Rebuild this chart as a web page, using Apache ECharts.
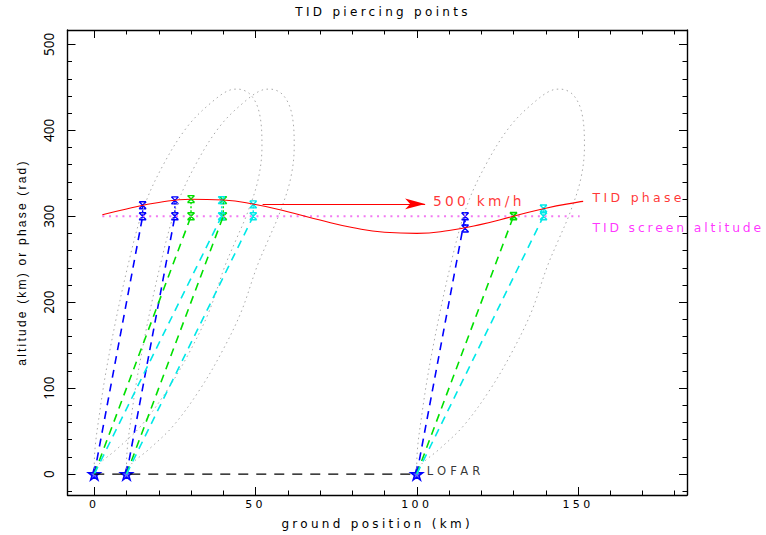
<!DOCTYPE html>
<html><head><meta charset="utf-8">
<script src="https://cdn.jsdelivr.net/npm/echarts@6/dist/echarts.min.js"></script>
<style>
html,body{margin:0;padding:0;background:#fff;}
#c{width:766px;height:535px;}
#c text[style*="DejaVu Sans"]{letter-spacing:3.3px;}
#c text[style*="12.4px"]{letter-spacing:2.85px;}
#c text[style*="11.6px"]{letter-spacing:4.2px;}
#c text[style*="Liberation Sans"]{letter-spacing:2.2px;}
</style></head><body><div id="c"></div>
<script>
// ---- data ----
const titleText = 'TID piercing points';
const xName = 'ground position (km)';
const yName = 'altitude (km) or phase (rad)';
const stationX = [0, 10, 100];
const stationLabel = 'LOFAR';
const screenAltitude = 300;
const screenX = [2.5, 150.5];
const bluePierceX = [15, 25, 115];
const greenPierceX = [30, 40, 130];
const cyanPierceX = [39.5, 49.3, 139.3];
const bluePhase = [312.8, 318.5, 285.7];
const greenPhase = [320.0, 318.8, 300.5];
const cyanPhase = [318.8, 313.8, 309.0];
const phaseX = [2.5, 10, 20, 30, 40, 50, 60, 70, 80, 90, 100, 110, 120, 130, 140, 150, 151.6];
const phaseY = [301.8, 308.5, 316.0, 319.8, 318.9, 313.7, 305.3, 295.6, 287.0, 281.4, 280.1, 283.5, 290.6, 300.0, 309.4, 316.5, 317.3];
// beam outline, relative to each station's ground position
const beamDX = [0.4, 0.0, 1.8, 5.1, 10.4, 15.5, 21.7, 28.9, 36.1, 42.3, 44.5, 48.5, 51.2, 52.0, 50.8, 47.5, 44.0, 40.5, 35.5, 29.5, 22.8, 14.5, 7.0, 1.0, 0.4];
const beamY  = [0, 9.6, 75, 149, 242, 311.6, 362, 404.5, 431.7, 447.2, 448, 441.3, 420.1, 381.3, 342.6, 303.9, 272.9, 241.9, 188.2, 141.7, 98.7, 56.1, 29, 9.6, 0];
const arrowX = [52.2, 102.6];
const arrowY = 314.4;
const speedLabel = '500 km/h';
const speedLabelPos = [105.0, 317.4];
const phaseLabel = 'TID phase';
const phaseLabelPos = [154.5, 321.4];
const screenLabel = 'TID screen altitude';
const screenLabelPos = [154.5, 287.2];
const lofarLabelPos = [103.1, 3.5];
const xRange = [-8.3, 183.8];
const yRange = [-24.4, 516.8];
const xMajorTicks = [0, 50, 100, 150];
const xMinorTicks = [10, 20, 30, 40, 60, 70, 80, 90, 110, 120, 130, 140, 160, 170, 180];
const yMajorTicks = [0, 100, 200, 300, 400, 500];
const yMinorTicks = [-20, 20, 40, 60, 80, 120, 140, 160, 180, 220, 240, 260, 280, 320, 340, 360, 380, 420, 440, 460, 480];

// ---- chart ----
const HFONT = 'DejaVu Sans';
const chart = echarts.init(document.getElementById('c'), null, {renderer: 'svg'});
const series = [];

stationX.forEach(function (sx) {
  series.push({
    type: 'line', silent: true, symbol: 'none', smooth: 0.35,
    data: beamDX.map(function (d, i) { return [sx + d, beamY[i]]; }),
    lineStyle: {color: '#a8a8a8', width: 1, type: [1.5, 3.5]}
  });
});

series.push({
  type: 'line', silent: true, symbol: 'none',
  data: screenX.map(function (x) { return [x, screenAltitude]; }),
  lineStyle: {color: '#f27af2', width: 2, type: [2, 4.7]}
});

series.push({
  type: 'line', silent: true, symbol: 'none', smooth: true,
  data: phaseX.map(function (x, i) { return [x, phaseY[i]]; }),
  lineStyle: {color: '#ff0000', width: 1.1}
});

series.push({
  type: 'line', silent: true, data: [],
  markLine: {
    silent: true, symbol: ['none', 'arrow'], symbolSize: [8, 20],
    label: {show: false},
    lineStyle: {color: '#ff0000', width: 1.1, type: 'solid'},
    data: [[{coord: [arrowX[0], arrowY]}, {coord: [arrowX[1], arrowY]}]]
  }
});

const rayGroups = [
  {color: '#0000ff', px: bluePierceX, ph: bluePhase},
  {color: '#00e000', px: greenPierceX, ph: greenPhase},
  {color: '#00e8e8', px: cyanPierceX, ph: cyanPhase}
];
rayGroups.forEach(function (g) {
  stationX.forEach(function (sx, i) {
    series.push({
      type: 'line', silent: true, symbol: 'none',
      data: [[sx, 0], [g.px[i], screenAltitude]],
      lineStyle: {color: g.color, width: 1.6, type: [8, 6]}
    });
    series.push({
      type: 'line', silent: true, symbol: 'none',
      data: [[g.px[i], screenAltitude], [g.px[i], g.ph[i]]],
      lineStyle: {color: g.color, width: 1.4, type: [2, 2]}
    });
  });
});
rayGroups.forEach(function (g) {
  const pts = [];
  g.px.forEach(function (x, i) { pts.push([x, screenAltitude]); pts.push([x, g.ph[i]]); });
  series.push({
    type: 'scatter', silent: true,
    symbol: 'path://M0,0L10,10M10,0L0,10M0,0L10,0M0,10L10,10', symbolSize: 7,
    itemStyle: {color: 'transparent', borderColor: g.color, borderWidth: 1.4, opacity: 1},
    data: pts
  });
});

series.push({
  type: 'line', silent: true, symbol: 'none',
  data: [[stationX[0], 0], [stationX[2], 0]],
  lineStyle: {color: '#000000', width: 1.3, type: [10, 8]}
});

series.push({
  type: 'scatter', silent: true,
  symbol: 'path://M50,0L61,35L98,35L68,57L79,91L50,70L21,91L32,57L2,35L39,35Z', symbolSize: 12,
  itemStyle: {color: 'rgba(0,0,255,0.6)', borderColor: '#0000ff', borderWidth: 1.5, opacity: 1},
  data: stationX.map(function (x) { return [x, 0]; })
});

function textPoint(pos, text, color, size) {
  return {
    type: 'scatter', silent: true, symbolSize: 0,
    itemStyle: {color: 'transparent'},
    label: {show: true, position: 'right', distance: 0, formatter: text,
      color: color, fontFamily: HFONT, fontSize: size, align: 'left', verticalAlign: 'middle'},
    data: [pos]
  };
}
series.push(textPoint(speedLabelPos, speedLabel, '#ff0000', 13.8));
series.push(textPoint(phaseLabelPos, phaseLabel, '#ff0000', 12.5));
series.push(textPoint(screenLabelPos, screenLabel, '#ff00ff', 12.4));
series.push(textPoint(lofarLabelPos, stationLabel, '#000000', 11.6));

function xAx(pos, ticks, len, labels, line) {
  return {
    type: 'value', position: pos, min: xRange[0], max: xRange[1],
    splitLine: {show: false},
    axisLine: {show: line, onZero: false, lineStyle: {color: '#000', width: 1.4}},
    axisTick: {show: true, inside: true, length: len, customValues: ticks, lineStyle: {color: '#000', width: 1}},
    axisLabel: labels ? {show: true, customValues: ticks, color: '#000', fontFamily: HFONT, fontSize: 11, margin: 4} : {show: false},
    name: labels ? xName : '', nameLocation: 'middle', nameGap: 23,
    nameTextStyle: {color: '#000', fontFamily: HFONT, fontSize: 12}
  };
}
function yAx(pos, ticks, len, labels, line) {
  return {
    type: 'value', position: pos, min: yRange[0], max: yRange[1],
    splitLine: {show: false},
    axisLine: {show: line, onZero: false, lineStyle: {color: '#000', width: 1.4}},
    axisTick: {show: true, inside: true, length: len, customValues: ticks, lineStyle: {color: '#000', width: 1}},
    axisLabel: labels ? {show: true, customValues: ticks, rotate: 90, color: '#000', fontFamily: 'Noto Sans', fontSize: 13.5, margin: 12} : {show: false},
    name: labels ? yName : '', nameLocation: 'middle', nameGap: 40,
    nameTextStyle: {color: '#000', fontFamily: 'Liberation Sans', fontSize: 12}
  };
}

chart.setOption({
  animation: false,
  backgroundColor: '#fff',
  title: {text: titleText, left: 'center', top: 6, padding: 0,
    textStyle: {color: '#000', fontFamily: HFONT, fontSize: 12, fontWeight: 'normal'}},
  grid: {left: 67.5, right: 79, top: 30, bottom: 39},
  xAxis: [
    xAx('bottom', xMajorTicks, 8, true, true),
    xAx('bottom', xMinorTicks, 4.5, false, false),
    xAx('top', xMajorTicks, 8, false, true),
    xAx('top', xMinorTicks, 4.5, false, false)
  ],
  yAxis: [
    yAx('left', yMajorTicks, 8, true, true),
    yAx('left', yMinorTicks, 4.5, false, false),
    yAx('right', yMajorTicks, 8, false, true),
    yAx('right', yMinorTicks, 4.5, false, false)
  ],
  series: series
});
</script></body></html>
